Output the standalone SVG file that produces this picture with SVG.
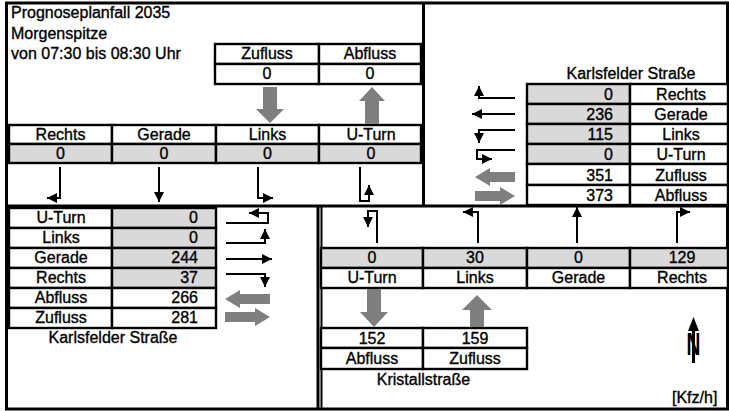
<svg xmlns="http://www.w3.org/2000/svg" width="729" height="411" viewBox="0 0 729 411">
<style>
.bg{fill:#fff}
.frame{fill:none;stroke:#000;stroke-width:3}
.cell{fill:#fff;stroke:#000;stroke-width:2.4}
.grey{fill:#d9d9d9;stroke:#000;stroke-width:2.4}
.t{font-family:"Liberation Sans",Arial,sans-serif;font-size:16px;fill:#000;stroke:#000;stroke-width:0.35}
.c{text-anchor:middle}
.r{text-anchor:end}
.lane{fill:none;stroke:#000;stroke-width:2;marker-end:url(#ah)}
.flow{fill:#7f7f7f}
</style>
<defs>
<marker id="ah" markerUnits="userSpaceOnUse" markerWidth="11" markerHeight="11" refX="10" refY="5.5" orient="auto">
<path d="M0,0.5 L10,5.5 L0,10.5 z" fill="#000"/>
</marker>
</defs>
<rect class="bg" x="0" y="0" width="729" height="411"/>

<g id="frame">
<rect class="frame" x="6.5" y="3" width="721" height="406"/>
<line class="frame" x1="423.5" y1="3" x2="423.5" y2="206"/>
<line class="frame" x1="6.5" y1="206" x2="727.5" y2="206"/>
<line class="frame" x1="318" y1="206" x2="318" y2="409"/>
<line stroke="#000" stroke-width="2" x1="321.5" y1="206" x2="321.5" y2="409"/>
</g>

<g id="title">
<text class="t" x="11" y="18">Prognoseplanfall 2035</text>
<text class="t" x="11" y="39">Morgenspitze</text>
<text class="t" x="11" y="59">von 07:30 bis 08:30 Uhr</text>
</g>

<g id="approach-north">
<rect class="cell" x="215" y="44" width="104" height="20"/>
<rect class="cell" x="319" y="44" width="102" height="20"/>
<rect class="cell" x="215" y="64" width="104" height="20"/>
<rect class="cell" x="319" y="64" width="102" height="20"/>
<text class="t c" x="267" y="59">Zufluss</text>
<text class="t c" x="370" y="59">Abfluss</text>
<text class="t c" x="267" y="79">0</text>
<text class="t c" x="370" y="79">0</text>
<rect class="cell" x="9" y="125" width="103" height="19"/>
<rect class="cell" x="112" y="125" width="104" height="19"/>
<rect class="cell" x="216" y="125" width="103" height="19"/>
<rect class="cell" x="319" y="125" width="102" height="19"/>
<rect class="grey" x="9" y="144" width="103" height="19"/>
<rect class="grey" x="112" y="144" width="104" height="19"/>
<rect class="grey" x="216" y="144" width="103" height="19"/>
<rect class="grey" x="319" y="144" width="102" height="19"/>
<text class="t c" x="60.5" y="140">Rechts</text>
<text class="t c" x="164" y="140">Gerade</text>
<text class="t c" x="267.5" y="140">Links</text>
<text class="t c" x="371" y="140">U-Turn</text>
<text class="t c" x="60.5" y="159">0</text>
<text class="t c" x="164" y="159">0</text>
<text class="t c" x="267.5" y="159">0</text>
<text class="t c" x="371" y="159">0</text>
</g>

<g id="approach-east">
<text class="t c" x="631" y="79">Karlsfelder Straße</text>
<rect class="grey" x="527" y="84" width="103" height="20"/>
<rect class="grey" x="527" y="104" width="103" height="20"/>
<rect class="grey" x="527" y="124" width="103" height="20"/>
<rect class="grey" x="527" y="144" width="103" height="20"/>
<rect class="cell" x="527" y="164" width="103" height="21"/>
<rect class="cell" x="527" y="185" width="103" height="20"/>
<rect class="cell" x="630" y="84" width="98" height="20"/>
<rect class="cell" x="630" y="104" width="98" height="20"/>
<rect class="cell" x="630" y="124" width="98" height="20"/>
<rect class="cell" x="630" y="144" width="98" height="20"/>
<rect class="cell" x="630" y="164" width="98" height="21"/>
<rect class="cell" x="630" y="185" width="98" height="20"/>
<text class="t r" x="613" y="100">0</text>
<text class="t r" x="613" y="120">236</text>
<text class="t r" x="613" y="140">115</text>
<text class="t r" x="613" y="160">0</text>
<text class="t r" x="613" y="181">351</text>
<text class="t r" x="613" y="201">373</text>
<text class="t c" x="681" y="100">Rechts</text>
<text class="t c" x="681" y="120">Gerade</text>
<text class="t c" x="681" y="140">Links</text>
<text class="t c" x="681" y="160">U-Turn</text>
<text class="t c" x="681" y="181">Zufluss</text>
<text class="t c" x="681" y="201">Abfluss</text>
</g>

<g id="approach-west">
<rect class="cell" x="9" y="208" width="103" height="20"/>
<rect class="cell" x="9" y="228" width="103" height="20"/>
<rect class="cell" x="9" y="248" width="103" height="20"/>
<rect class="cell" x="9" y="268" width="103" height="20"/>
<rect class="cell" x="9" y="288" width="103" height="20"/>
<rect class="cell" x="9" y="308" width="103" height="20"/>
<rect class="grey" x="112" y="208" width="104" height="20"/>
<rect class="grey" x="112" y="228" width="104" height="20"/>
<rect class="grey" x="112" y="248" width="104" height="20"/>
<rect class="grey" x="112" y="268" width="104" height="20"/>
<rect class="cell" x="112" y="288" width="104" height="20"/>
<rect class="cell" x="112" y="308" width="104" height="20"/>
<text class="t c" x="61" y="223">U-Turn</text>
<text class="t c" x="61" y="243">Links</text>
<text class="t c" x="61" y="263">Gerade</text>
<text class="t c" x="61" y="283">Rechts</text>
<text class="t c" x="61" y="303">Abfluss</text>
<text class="t c" x="61" y="323">Zufluss</text>
<text class="t r" x="198" y="223">0</text>
<text class="t r" x="198" y="243">0</text>
<text class="t r" x="198" y="263">244</text>
<text class="t r" x="198" y="283">37</text>
<text class="t r" x="198" y="303">266</text>
<text class="t r" x="198" y="323">281</text>
<text class="t c" x="113" y="343">Karlsfelder Straße</text>
</g>

<g id="approach-south">
<rect class="grey" x="321" y="248" width="102" height="20"/>
<rect class="grey" x="423" y="248" width="104" height="20"/>
<rect class="grey" x="527" y="248" width="103" height="20"/>
<rect class="grey" x="630" y="248" width="98" height="20"/>
<rect class="cell" x="321" y="268" width="102" height="20"/>
<rect class="cell" x="423" y="268" width="104" height="20"/>
<rect class="cell" x="527" y="268" width="103" height="20"/>
<rect class="cell" x="630" y="268" width="98" height="20"/>
<text class="t c" x="372" y="263">0</text>
<text class="t c" x="475" y="263">30</text>
<text class="t c" x="578.5" y="263">0</text>
<text class="t c" x="682" y="263">129</text>
<text class="t c" x="372" y="283">U-Turn</text>
<text class="t c" x="475" y="283">Links</text>
<text class="t c" x="578.5" y="283">Gerade</text>
<text class="t c" x="682" y="283">Rechts</text>
<rect class="cell" x="321" y="328" width="102" height="20"/>
<rect class="cell" x="423" y="328" width="104" height="20"/>
<rect class="cell" x="321" y="348" width="102" height="21"/>
<rect class="cell" x="423" y="348" width="104" height="21"/>
<text class="t c" x="372" y="344">152</text>
<text class="t c" x="475" y="344">159</text>
<text class="t c" x="372" y="364">Abfluss</text>
<text class="t c" x="475" y="364">Zufluss</text>
<text class="t c" x="423.5" y="385">Kristallstraße</text>
</g>

<g id="north-arrow">
<text x="0" y="0" transform="translate(693.5,355) scale(0.6,1)" style="font-family:'Liberation Sans',Arial,sans-serif;font-size:32px;font-weight:bold;text-anchor:middle">N</text>
<line x1="693.5" y1="363" x2="693.5" y2="327" stroke="#000" stroke-width="3"/>
<polygon points="693.5,317 699,331 688,331" fill="#000"/>
</g>

<g id="unit">
<text class="t" x="672" y="403">[Kfz/h]</text>
</g>

<g id="connectors">
<path class="lane" d="M60,167 V198 H47"/>
<path class="lane" d="M159,167 V202"/>
<path class="lane" d="M258,167 V198 H273"/>
<path class="lane" d="M360,167 V201 H369 V185"/>
<path class="lane" d="M515,98 H479 V86"/>
<path class="lane" d="M515,114 H472"/>
<path class="lane" d="M515,130 H479 V143"/>
<path class="lane" d="M515,150 H477 V159 H492"/>
<path class="lane" d="M226,223 H268 V213 H249"/>
<path class="lane" d="M226,243 H265 V229"/>
<path class="lane" d="M226,259 H272"/>
<path class="lane" d="M226,274 H265 V287"/>
<path class="lane" d="M377,243 V211 H368 V227"/>
<path class="lane" d="M478,243 V212 H463"/>
<path class="lane" d="M577,243 V207"/>
<path class="lane" d="M677,243 V212 H690"/>
<polygon class="flow" points="263,87 277,87 277,109 284,109 270,123 256,109 263,109"/>
<polygon class="flow" points="372,87 385,101 379,101 379,124 365,124 365,101 359,101"/>
<polygon class="flow" points="367,289 381,289 381,312 388,312 374,327 360,312 367,312"/>
<polygon class="flow" points="477,295 492,310 484,310 484,327 470,327 470,310 462,310"/>
<polygon class="flow" points="225,299 240,290 240,294 270,294 270,304 240,304 240,308"/>
<polygon class="flow" points="270,317 255,308 255,312 225,312 225,322 255,322 255,326"/>
<polygon class="flow" points="475,177 490,168 490,172 515,172 515,182 490,182 490,186"/>
<polygon class="flow" points="515,196 500,187 500,191 475,191 475,201 500,201 500,205"/>
</g>
</svg>
